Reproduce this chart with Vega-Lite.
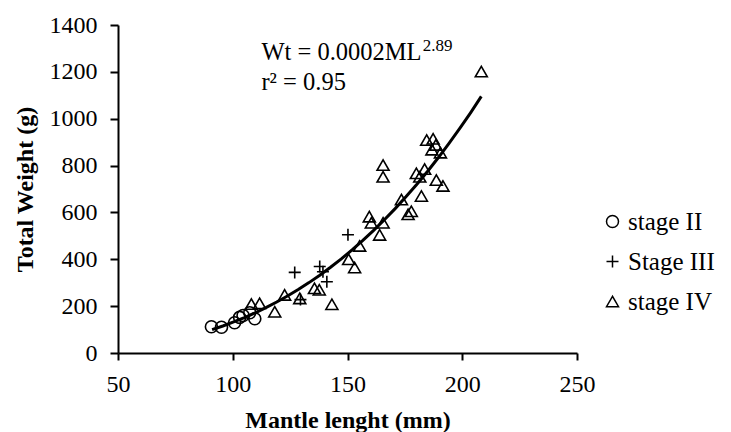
{
  "$schema": "https://vega.github.io/schema/vega-lite/v6.json",
  "width": 459,
  "height": 328,
  "autosize": {"type": "none"},
  "padding": {"left": 118, "top": 25, "right": 154, "bottom": 79},
  "config": {"view": {"stroke": null}, "font": "Liberation Serif"},
  "datasets": {
    "pts": [
      {"stage": "stage II", "ML": 90.7, "W": 112},
      {"stage": "stage II", "ML": 95.1, "W": 110},
      {"stage": "stage II", "ML": 100.8, "W": 129},
      {"stage": "stage II", "ML": 103.0, "W": 152},
      {"stage": "stage II", "ML": 104.5, "W": 160},
      {"stage": "stage II", "ML": 107.4, "W": 172},
      {"stage": "stage II", "ML": 109.6, "W": 146},
      {"stage": "Stage III", "ML": 127.0, "W": 344},
      {"stage": "Stage III", "ML": 129.5, "W": 228},
      {"stage": "Stage III", "ML": 137.9, "W": 369},
      {"stage": "Stage III", "ML": 139.3, "W": 347},
      {"stage": "Stage III", "ML": 141.0, "W": 304},
      {"stage": "Stage III", "ML": 150.2, "W": 505},
      {"stage": "stage IV", "ML": 108.1, "W": 209},
      {"stage": "stage IV", "ML": 111.7, "W": 212},
      {"stage": "stage IV", "ML": 118.3, "W": 176},
      {"stage": "stage IV", "ML": 122.6, "W": 248},
      {"stage": "stage IV", "ML": 129.2, "W": 233},
      {"stage": "stage IV", "ML": 135.6, "W": 276},
      {"stage": "stage IV", "ML": 137.7, "W": 270},
      {"stage": "stage IV", "ML": 143.2, "W": 208},
      {"stage": "stage IV", "ML": 150.5, "W": 400},
      {"stage": "stage IV", "ML": 153.1, "W": 365},
      {"stage": "stage IV", "ML": 155.3, "W": 457},
      {"stage": "stage IV", "ML": 159.5, "W": 582},
      {"stage": "stage IV", "ML": 160.4, "W": 556},
      {"stage": "stage IV", "ML": 164.0, "W": 504},
      {"stage": "stage IV", "ML": 165.5, "W": 556},
      {"stage": "stage IV", "ML": 165.5, "W": 802},
      {"stage": "stage IV", "ML": 165.5, "W": 752},
      {"stage": "stage IV", "ML": 173.5, "W": 655},
      {"stage": "stage IV", "ML": 176.4, "W": 592},
      {"stage": "stage IV", "ML": 177.8, "W": 605},
      {"stage": "stage IV", "ML": 182.2, "W": 670},
      {"stage": "stage IV", "ML": 180.0, "W": 767},
      {"stage": "stage IV", "ML": 181.5, "W": 752},
      {"stage": "stage IV", "ML": 183.6, "W": 785},
      {"stage": "stage IV", "ML": 188.7, "W": 738},
      {"stage": "stage IV", "ML": 191.6, "W": 713},
      {"stage": "stage IV", "ML": 184.5, "W": 909},
      {"stage": "stage IV", "ML": 187.3, "W": 914},
      {"stage": "stage IV", "ML": 188.5, "W": 888},
      {"stage": "stage IV", "ML": 186.8, "W": 868},
      {"stage": "stage IV", "ML": 190.5, "W": 855},
      {"stage": "stage IV", "ML": 208.3, "W": 1201}
    ]
  },
  "layer": [
    {
      "data": {"name": "pts"},
      "mark": {"type": "point", "filled": false, "strokeWidth": 1.6, "size": 144, "opacity": 1, "color": "black"},
      "encoding": {
        "x": {
          "field": "ML", "type": "quantitative",
          "scale": {"domain": [50, 250], "nice": false, "zero": false},
          "axis": {
            "title": "Mantle lenght (mm)", "values": [50, 100, 150, 200, 250], "format": "d", "grid": false,
            "domainColor": "black", "domainWidth": 2, "tickColor": "black", "tickWidth": 2, "tickSize": 7,
            "labelFontSize": 24, "labelColor": "black", "labelPadding": 12, "labelFlush": false,
            "titleFontSize": 24, "titleFontWeight": "bold", "titleColor": "black", "titlePadding": 12
          }
        },
        "y": {
          "field": "W", "type": "quantitative",
          "scale": {"domain": [0, 1400], "nice": false},
          "axis": {
            "title": "Total Weight (g)", "values": [0, 200, 400, 600, 800, 1000, 1200, 1400], "format": "d", "grid": false,
            "domainColor": "black", "domainWidth": 2, "tickColor": "black", "tickWidth": 2, "tickSize": 8,
            "labelFontSize": 24, "labelColor": "black", "labelPadding": 13,
            "titleFontSize": 24, "titleFontWeight": "bold", "titleColor": "black", "titlePadding": 12
          }
        },
        "shape": {
          "field": "stage", "type": "nominal",
          "scale": {"domain": ["stage II", "Stage III", "stage IV"], "range": ["circle", "M-1,0H1M0,-1V1", "triangle-up"]},
          "legend": {
            "title": null, "orient": "none", "legendX": 482, "legendY": 184,
            "padding": 0, "rowPadding": 14, "labelOffset": 3,
            "labelFontSize": 25, "labelColor": "black", "symbolSize": 144,
            "symbolStrokeColor": "black", "symbolStrokeWidth": 1.5, "symbolFillColor": "transparent"
          }
        }
      }
    },
    {
      "data": {"name": "pts"},
      "transform": [{"regression": "W", "on": "ML", "method": "pow", "extent": [91, 208.3]}],
      "mark": {"type": "line", "color": "black", "strokeWidth": 3},
      "encoding": {
        "x": {"field": "ML", "type": "quantitative"},
        "y": {"field": "W", "type": "quantitative"}
      }
    },
    {
      "data": {"values": [{}]},
      "mark": {"type": "text", "align": "left", "baseline": "alphabetic", "fontSize": 24.5, "color": "black"},
      "encoding": {"x": {"datum": 112.5}, "y": {"datum": 1250}, "text": {"value": "Wt = 0.0002ML"}}
    },
    {
      "data": {"values": [{}]},
      "mark": {"type": "text", "align": "left", "baseline": "alphabetic", "fontSize": 17, "color": "black"},
      "encoding": {"x": {"datum": 182.8}, "y": {"datum": 1287}, "text": {"value": "2.89"}}
    },
    {
      "data": {"values": [{}]},
      "mark": {"type": "text", "align": "left", "baseline": "alphabetic", "fontSize": 24.5, "color": "black"},
      "encoding": {"x": {"datum": 112.5}, "y": {"datum": 1122}, "text": {"value": "r² = 0.95"}}
    }
  ]
}
